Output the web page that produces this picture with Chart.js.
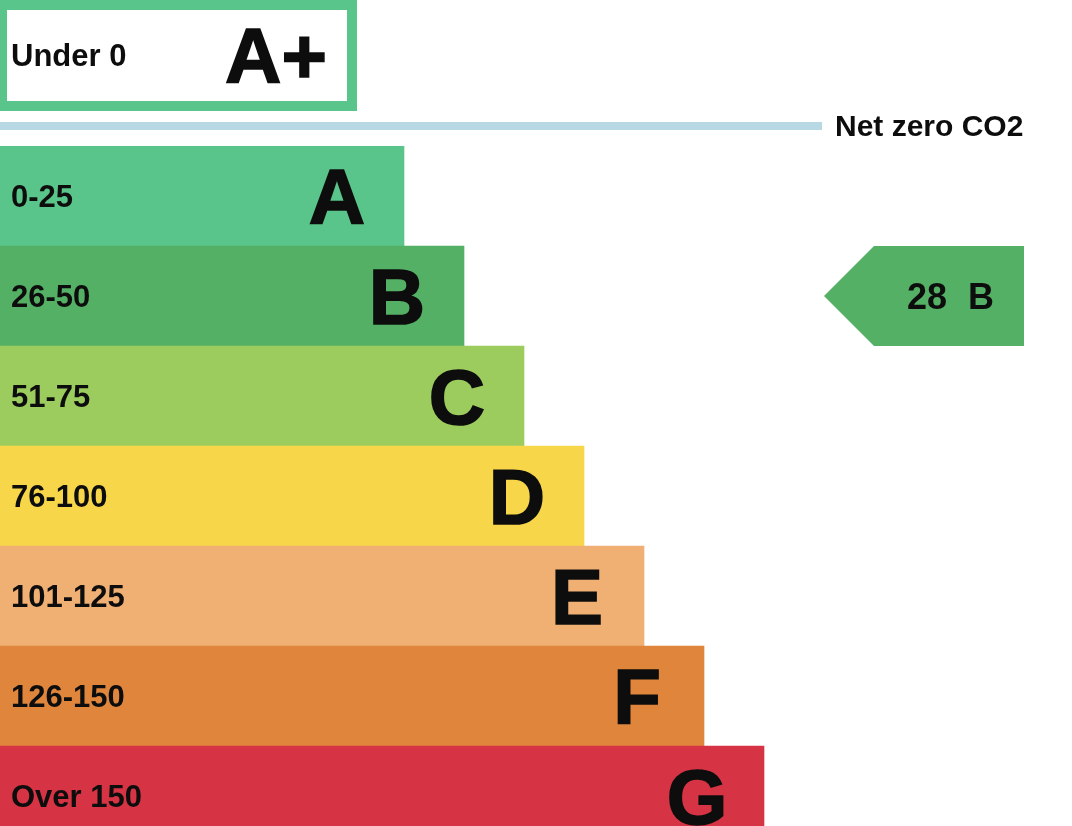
<!DOCTYPE html>
<html lang="en">
<head>
    <meta charset="UTF-8">
    <title>Energy rating</title>
    <script src="https://cdn.jsdelivr.net/npm/chart.js"></script>
    <style>
        html, body {
            margin: 0;
            padding: 0;
            background: #ffffff;
            overflow: hidden;
        }
        #ratingChart {
            display: block;
        }
    </style>
</head>
<body>
    <canvas id="ratingChart" width="1072" height="846"></canvas>

    <script>
        // Bandes de notation
        const bands = ['A', 'B', 'C', 'D', 'E', 'F', 'G'];
        const ranges = ['0-25', '26-50', '51-75', '76-100', '101-125', '126-150', 'Over 150'];
        const barLengths = [404, 464, 524, 584, 644, 704, 764];
        const bandColors = ['#5ac58a', '#54b064', '#9dcc5e', '#f7d749', '#f0af73', '#e0853c', '#d63444'];

        // Bande au-dessus de zéro
        const topBand = 'A+';
        const topRange = 'Under 0';
        const netZeroLabel = 'Net zero CO2';

        // Note actuelle
        const currentScore = 28;
        const currentBand = 'B';

        const FONT = "'Liberation Sans', Arial, sans-serif";
        const INK = '#0d0d0d';

        // grosse lettre, un peu épaissie
        function bigText(ctx, text, x, y) {
            ctx.font = 'bold 78px ' + FONT;
            ctx.textAlign = 'center';
            ctx.lineWidth = 1.6;
            ctx.strokeStyle = INK;
            ctx.fillText(text, x, y);
            ctx.strokeText(text, x, y);
        }

        const overlay = {
            id: 'overlay',
            afterDatasetsDraw(chart) {
                const ctx = chart.ctx;
                const x = chart.scales.x;
                const y = chart.scales.y;
                const meta = chart.getDatasetMeta(0);
                ctx.save();
                ctx.fillStyle = INK;
                ctx.textBaseline = 'alphabetic';

                // étiquettes et lettres dans les barres
                meta.data.forEach((bar, i) => {
                    ctx.font = 'bold 31px ' + FONT;
                    ctx.textAlign = 'left';
                    ctx.fillText(ranges[i], 11, bar.y + 11);
                    bigText(ctx, bands[i], x.getPixelForValue(barLengths[i]) - 67, bar.y + 28);
                });

                // case A+
                ctx.fillStyle = bandColors[0];
                ctx.fillRect(0, 0, 357, 111);
                ctx.fillStyle = '#ffffff';
                ctx.fillRect(7, 10, 340, 91);
                ctx.fillStyle = INK;
                ctx.font = 'bold 31px ' + FONT;
                ctx.textAlign = 'left';
                ctx.fillText(topRange, 11, 66);
                bigText(ctx, topBand, 276, 83);

                // ligne zéro net
                ctx.fillStyle = '#b8d9e4';
                ctx.fillRect(0, 122, 822, 8);
                ctx.fillStyle = INK;
                ctx.font = 'bold 30px ' + FONT;
                ctx.textAlign = 'left';
                ctx.fillText(netZeroLabel, 835, 136);

                // flèche de la note actuelle
                const idx = bands.indexOf(currentBand);
                const cy = y.getPixelForValue(idx);
                const half = 50;
                ctx.fillStyle = bandColors[idx];
                ctx.beginPath();
                ctx.moveTo(824, cy);
                ctx.lineTo(874, cy - half);
                ctx.lineTo(1024, cy - half);
                ctx.lineTo(1024, cy + half);
                ctx.lineTo(874, cy + half);
                ctx.closePath();
                ctx.fill();
                ctx.fillStyle = INK;
                ctx.font = 'bold 36px ' + FONT;
                ctx.textAlign = 'right';
                ctx.fillText(String(currentScore), 947, cy + 13);
                ctx.textAlign = 'left';
                ctx.fillText(currentBand, 968, cy + 13);

                ctx.restore();
            }
        };

        new Chart(document.getElementById('ratingChart'), {
            type: 'bar',
            data: {
                labels: bands,
                datasets: [{
                    data: barLengths,
                    backgroundColor: bandColors,
                    borderWidth: 0,
                    barPercentage: 1,
                    categoryPercentage: 1
                }]
            },
            options: {
                indexAxis: 'y',
                responsive: false,
                animation: false,
                layout: { padding: { top: 146, left: 0, right: 0, bottom: 0 } },
                scales: {
                    x: { display: false, min: 0, max: 1072 },
                    y: { display: false }
                },
                plugins: {
                    legend: { display: false },
                    tooltip: { enabled: false }
                }
            },
            plugins: [overlay]
        });
    </script>
</body>
</html>
